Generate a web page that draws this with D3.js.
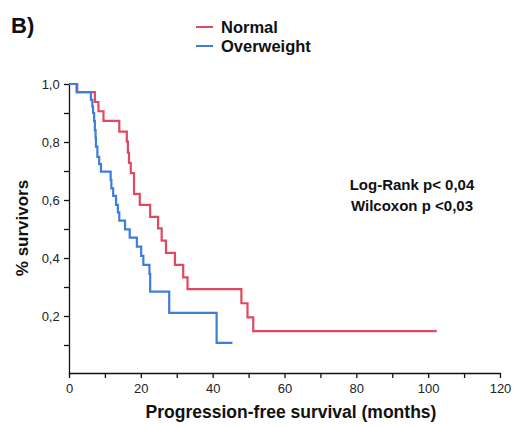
<!DOCTYPE html>
<html>
<head>
<meta charset="utf-8">
<script src="https://cdn.jsdelivr.net/npm/d3@7"></script>
<style>
  body { margin: 0; background: #fff; }
  text { font-family: "Liberation Sans", Arial, sans-serif; }
</style>
</head>
<body>
<svg id="chart" width="513" height="426"></svg>
<script>
// Kaplan-Meier steps
var normalTime = [0, 2.3, 7.2, 8.2, 9.6, 14.0, 16.1, 16.4, 16.7, 17.2, 18.1, 19.7, 22.6, 24.8, 25.8, 27.0, 29.5, 31.8, 33.0, 48.0, 49.7, 51.3, 102.4];
var normalSurv = [1.0, 0.972, 0.938, 0.906, 0.873, 0.836, 0.801, 0.763, 0.728, 0.693, 0.621, 0.583, 0.542, 0.502, 0.460, 0.418, 0.376, 0.333, 0.293, 0.244, 0.195, 0.148, 0.148];

var overTime = [0, 2.1, 6.1, 6.5, 6.7, 7.0, 7.2, 7.4, 7.5, 7.9, 8.4, 8.9, 11.6, 11.8, 12.3, 13.1, 13.6, 14.0, 15.6, 16.9, 18.9, 20.1, 20.7, 22.4, 22.6, 27.9, 41.1, 45.5];
var overSurv = [1.0, 0.972, 0.945, 0.922, 0.900, 0.872, 0.841, 0.814, 0.784, 0.749, 0.724, 0.698, 0.669, 0.640, 0.614, 0.583, 0.557, 0.529, 0.499, 0.470, 0.439, 0.407, 0.376, 0.345, 0.284, 0.211, 0.107, 0.107];

var xTicks = d3.range(0, 121, 10);
var yTicks = d3.range(1, 11).map(function(d) { return d / 10; });

var series = [
  {name: "Normal", color: "#df4a60", time: normalTime, surv: normalSurv},
  {name: "Overweight", color: "#3d7ddc", time: overTime, surv: overSurv}
];

var svg = d3.select("#chart");

var x = d3.scaleLinear().domain([0, 120]).range([69, 500]);
var y = d3.scaleLinear().domain([0, 1]).range([374, 84]);

// x axis
var gx = svg.append("g")
    .attr("transform", "translate(0,373)")
    .call(d3.axisBottom(x)
      .tickValues(xTicks)
      .tickSize(5)
      .tickSizeOuter(0)
      .tickFormat(function(d) { return d % 20 === 0 ? d : ""; }));
gx.selectAll("text").attr("font-size", 13).attr("fill", "#222").attr("dy", "0.9em");

// y axis
var gy = svg.append("g")
    .attr("transform", "translate(69,0)")
    .call(d3.axisLeft(y)
      .tickValues(yTicks)
      .tickSize(5)
      .tickSizeOuter(0)
      .tickFormat(function(d) {
        var k = Math.round(d * 10);
        return k % 2 === 0 ? d3.format(".1f")(d).replace(".", ",") : "";
      }));
gy.selectAll("text").attr("font-size", 13).attr("fill", "#222").attr("dx", "-0.1em");

svg.selectAll(".domain, .tick line").attr("stroke", "#111").attr("stroke-width", 1.3);

// curves
var line = d3.line()
    .x(function(d) { return x(d[0]); })
    .y(function(d) { return y(d[1]); })
    .curve(d3.curveStepAfter);

series.forEach(function(s) {
  var pts = s.time.map(function(t, i) { return [t, s.surv[i]]; });
  svg.append("path")
      .datum(pts)
      .attr("fill", "none")
      .attr("stroke", s.color)
      .attr("stroke-width", 2.2)
      .attr("d", line);
});

// legend
var legend = svg.append("g");
series.forEach(function(s, i) {
  legend.append("line")
      .attr("x1", 196).attr("x2", 213)
      .attr("y1", 27 + i * 19).attr("y2", 27 + i * 19)
      .attr("stroke", s.color).attr("stroke-width", 2);
  legend.append("text")
      .attr("x", 221).attr("y", 32.5 + i * 19)
      .attr("font-size", 16.5).attr("font-weight", "bold").attr("fill", "#111")
      .text(s.name);
});

// panel label
svg.append("text")
    .attr("x", 11).attr("y", 33)
    .attr("font-size", 22).attr("font-weight", "bold").attr("fill", "#111")
    .text("B)");

// stats
svg.append("text")
    .attr("x", 412).attr("y", 190)
    .attr("text-anchor", "middle")
    .attr("font-size", 15).attr("font-weight", "bold").attr("fill", "#111")
    .text("Log-Rank p< 0,04");
svg.append("text")
    .attr("x", 412).attr("y", 211)
    .attr("text-anchor", "middle")
    .attr("font-size", 15).attr("font-weight", "bold").attr("fill", "#111")
    .text("Wilcoxon p <0,03");

// axis titles
svg.append("text")
    .attr("transform", "translate(28,228) rotate(-90)")
    .attr("text-anchor", "middle")
    .attr("font-size", 17).attr("font-weight", "bold").attr("fill", "#111")
    .text("% survivors");

svg.append("text")
    .attr("x", 291).attr("y", 418)
    .attr("text-anchor", "middle")
    .attr("font-size", 17.5).attr("font-weight", "bold").attr("fill", "#111")
    .text("Progression-free survival (months)");
</script>
</body>
</html>
